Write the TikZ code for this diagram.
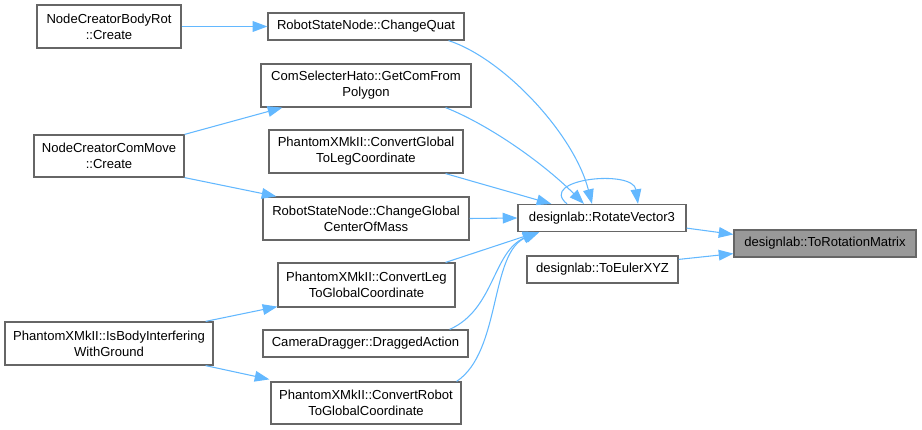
\documentclass[tikz,border=0pt]{standalone}
\usepackage{fontspec}
\setmainfont{Liberation Sans}
\usetikzlibrary{arrows.meta,calc}
\definecolor{edgeblue}{HTML}{63B8FF}
\definecolor{boxgray}{HTML}{666666}
\definecolor{rootgray}{HTML}{999999}
\newcommand{\px}{0.75pt}
\tikzset{fn/.style={draw=boxgray,line width=0.9pt,fill=white,inner sep=0pt,align=center,font=\fontsize{9.8}{12}\selectfont,minimum height=#1*\px},fn/.default=43,
call/.style={draw=edgeblue,line width=0.8pt,-{Triangle[length=11pt,width=8pt]}}}
\begin{document}
\begin{tikzpicture}[x=\px,y=-\px]
\useasboundingbox(0,0)rectangle(922,429);
\node[fn,minimum width=144*\px](bodyrot)at(109,26.5){NodeCreatorBodyRot\\::Create};
\node[fn=27,minimum width=196*\px](quat)at(366,26.5){RobotStateNode::ChangeQuat};
\node[fn,minimum width=210*\px](comfrom)at(366,85.5){ComSelecterHato::GetComFrom\\Polygon};
\node[fn=42,minimum width=150*\px](commove)at(109,156){NodeCreatorComMove\\::Create};
\node[fn,minimum width=194*\px](globtoleg)at(366,151.5){PhantomXMkII::ConvertGlobal\\ToLegCoordinate};
\node[fn,minimum width=206*\px](globcom)at(366,218.5){RobotStateNode::ChangeGlobal\\CenterOfMass};
\node[fn=44,minimum width=177*\px](legtoglob)at(366.5,285){PhantomXMkII::ConvertLeg\\ToGlobalCoordinate};
\node[fn=27,minimum width=205*\px](dragged)at(365.5,343.5){CameraDragger::DraggedAction};
\node[fn=42,minimum width=190*\px](robtoglob)at(366,403){PhantomXMkII::ConvertRobot\\ToGlobalCoordinate};
\node[fn,minimum width=208*\px](bodyint)at(109,343.5){PhantomXMkII::IsBodyInterfering\\WithGround};
\node[fn=27,minimum width=168*\px](rotvec)at(602,218){designlab::RotateVector3};
\node[fn=27,minimum width=151*\px](toeuler)at(602.5,269.5){designlab::ToEulerXYZ};
\node[fn=27,minimum width=182*\px,fill=rootgray](torot)at(825,243.5){designlab::ToRotationMatrix};
\draw[call](bodyrot)--(quat);
\draw[call](commove.north east)--($(comfrom.south west)+(22,0)$);
\draw[call](commove.south east)--($(globcom.north west)+(14,0)$);
\draw[call]($(bodyint.north east)+(-8,0)$)--($(legtoglob.south west)+(0,-1)$);
\draw[call]($(bodyint.south east)+(-8,0)$)--($(robtoglob.north west)+(-1,-2)$);
\draw[call]($(quat.south east)+(-16,0)$)..controls +(55,18) and +(-18,-70)..($(rotvec.north)+(-10,0)$);
\draw[call]($(comfrom.south east)+(-26,0)$)..controls +(45,18) and +(-40,-40)..($(rotvec.north)+(-18,0)$);
\draw[call]($(globtoleg.south east)+(-18,0)$)--($(rotvec.north west)+(34,0)$);
\draw[call](globcom.east)--(rotvec.west);
\draw[call]($(legtoglob.north east)+(-10,0)$)--($(rotvec.south west)+(20,0)$);
\draw[call]($(dragged.north east)+(-19,0)$)..controls +(45,-20) and +(-45,20)..($(rotvec.south west)+(20,0)$);
\draw[call]($(robtoglob.north east)+(-5,0)$)..controls +(45,-30) and +(-50,20)..($(rotvec.south west)+(22,0)$);
\draw[call]($(rotvec.north)+(-35,0)$)..controls +(-30,-25) and +(-5,-35)..($(rotvec.north)+(36,0)$);
\draw[call]($(rotvec.south east)+(0,-4)$)--($(torot.north west)+(0,5)$);
\draw[call]($(toeuler.north east)+(0,4)$)--($(torot.south west)+(0,-4)$);
\end{tikzpicture}
\end{document}
